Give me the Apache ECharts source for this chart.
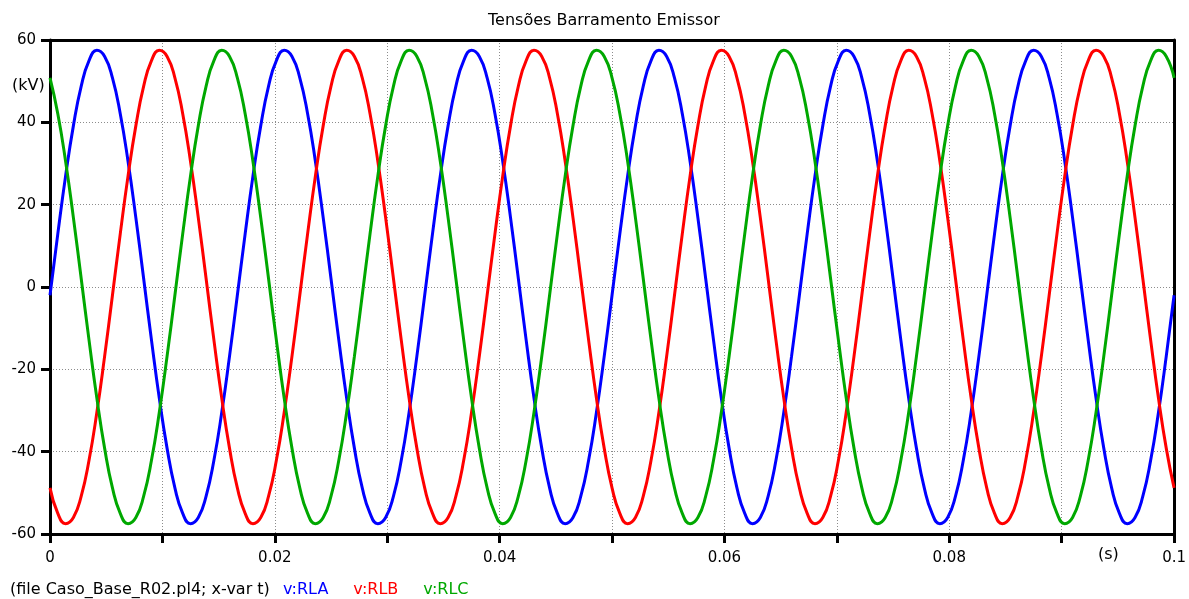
<!DOCTYPE html>
<html>
<head>
<meta charset="utf-8">
<title>Tensões Barramento Emissor</title>
<script src="https://cdn.jsdelivr.net/npm/echarts@6/dist/echarts.min.js"></script>
<style>
  html, body { margin: 0; padding: 0; background: #fff; }
  #chart { width: 1189px; height: 599px; }
</style>
</head>
<body>
<div id="chart"></div>
<script>
  // sample times (s), one point every 15 degrees of the 60 Hz wave
  const times = [
    0, 0.000694, 0.001389, 0.002083, 0.002778, 0.003472, 0.004167, 0.004861, 0.005556, 0.00625, 0.006944, 0.007639,
    0.008333, 0.009028, 0.009722, 0.010417, 0.011111, 0.011806, 0.0125, 0.013194, 0.013889, 0.014583, 0.015278, 0.015972,
    0.016667, 0.017361, 0.018056, 0.01875, 0.019444, 0.020139, 0.020833, 0.021528, 0.022222, 0.022917, 0.023611, 0.024306,
    0.025, 0.025694, 0.026389, 0.027083, 0.027778, 0.028472, 0.029167, 0.029861, 0.030556, 0.03125, 0.031944, 0.032639,
    0.033333, 0.034028, 0.034722, 0.035417, 0.036111, 0.036806, 0.0375, 0.038194, 0.038889, 0.039583, 0.040278, 0.040972,
    0.041667, 0.042361, 0.043056, 0.04375, 0.044444, 0.045139, 0.045833, 0.046528, 0.047222, 0.047917, 0.048611, 0.049306,
    0.05, 0.050694, 0.051389, 0.052083, 0.052778, 0.053472, 0.054167, 0.054861, 0.055556, 0.05625, 0.056944, 0.057639,
    0.058333, 0.059028, 0.059722, 0.060417, 0.061111, 0.061806, 0.0625, 0.063194, 0.063889, 0.064583, 0.065278, 0.065972,
    0.066667, 0.067361, 0.068056, 0.06875, 0.069444, 0.070139, 0.070833, 0.071528, 0.072222, 0.072917, 0.073611, 0.074306,
    0.075, 0.075694, 0.076389, 0.077083, 0.077778, 0.078472, 0.079167, 0.079861, 0.080556, 0.08125, 0.081944, 0.082639,
    0.083333, 0.084028, 0.084722, 0.085417, 0.086111, 0.086806, 0.0875, 0.088194, 0.088889, 0.089583, 0.090278, 0.090972,
    0.091667, 0.092361, 0.093056, 0.09375, 0.094444, 0.095139, 0.095833, 0.096528, 0.097222, 0.097917, 0.098611, 0.099306,
    0.1,
  ];

  // kV
  const rla = [
    -2.0, 12.9, 27.0, 39.2, 48.8, 55.0, 57.5, 56.0, 50.8, 42.1, 30.5, 16.8,
    2.0, -12.9, -27.0, -39.2, -48.8, -55.0, -57.5, -56.0, -50.8, -42.1, -30.5, -16.8,
    -2.0, 12.9, 27.0, 39.2, 48.8, 55.0, 57.5, 56.0, 50.8, 42.1, 30.5, 16.8,
    2.0, -12.9, -27.0, -39.2, -48.8, -55.0, -57.5, -56.0, -50.8, -42.1, -30.5, -16.8,
    -2.0, 12.9, 27.0, 39.2, 48.8, 55.0, 57.5, 56.0, 50.8, 42.1, 30.5, 16.8,
    2.0, -12.9, -27.0, -39.2, -48.8, -55.0, -57.5, -56.0, -50.8, -42.1, -30.5, -16.8,
    -2.0, 12.9, 27.0, 39.2, 48.8, 55.0, 57.5, 56.0, 50.8, 42.1, 30.5, 16.8,
    2.0, -12.9, -27.0, -39.2, -48.8, -55.0, -57.5, -56.0, -50.8, -42.1, -30.5, -16.8,
    -2.0, 12.9, 27.0, 39.2, 48.8, 55.0, 57.5, 56.0, 50.8, 42.1, 30.5, 16.8,
    2.0, -12.9, -27.0, -39.2, -48.8, -55.0, -57.5, -56.0, -50.8, -42.1, -30.5, -16.8,
    -2.0, 12.9, 27.0, 39.2, 48.8, 55.0, 57.5, 56.0, 50.8, 42.1, 30.5, 16.8,
    2.0, -12.9, -27.0, -39.2, -48.8, -55.0, -57.5, -56.0, -50.8, -42.1, -30.5, -16.8,
    -2.0,
  ];
  const rlb = [
    -48.8, -55.0, -57.5, -56.0, -50.8, -42.1, -30.5, -16.8, -2.0, 12.9, 27.0, 39.2,
    48.8, 55.0, 57.5, 56.0, 50.8, 42.1, 30.5, 16.8, 2.0, -12.9, -27.0, -39.2,
    -48.8, -55.0, -57.5, -56.0, -50.8, -42.1, -30.5, -16.8, -2.0, 12.9, 27.0, 39.2,
    48.8, 55.0, 57.5, 56.0, 50.8, 42.1, 30.5, 16.8, 2.0, -12.9, -27.0, -39.2,
    -48.8, -55.0, -57.5, -56.0, -50.8, -42.1, -30.5, -16.8, -2.0, 12.9, 27.0, 39.2,
    48.8, 55.0, 57.5, 56.0, 50.8, 42.1, 30.5, 16.8, 2.0, -12.9, -27.0, -39.2,
    -48.8, -55.0, -57.5, -56.0, -50.8, -42.1, -30.5, -16.8, -2.0, 12.9, 27.0, 39.2,
    48.8, 55.0, 57.5, 56.0, 50.8, 42.1, 30.5, 16.8, 2.0, -12.9, -27.0, -39.2,
    -48.8, -55.0, -57.5, -56.0, -50.8, -42.1, -30.5, -16.8, -2.0, 12.9, 27.0, 39.2,
    48.8, 55.0, 57.5, 56.0, 50.8, 42.1, 30.5, 16.8, 2.0, -12.9, -27.0, -39.2,
    -48.8, -55.0, -57.5, -56.0, -50.8, -42.1, -30.5, -16.8, -2.0, 12.9, 27.0, 39.2,
    48.8, 55.0, 57.5, 56.0, 50.8, 42.1, 30.5, 16.8, 2.0, -12.9, -27.0, -39.2,
    -48.8,
  ];
  const rlc = [
    50.8, 42.1, 30.5, 16.8, 2.0, -12.9, -27.0, -39.2, -48.8, -55.0, -57.5, -56.0,
    -50.8, -42.1, -30.5, -16.8, -2.0, 12.9, 27.0, 39.2, 48.8, 55.0, 57.5, 56.0,
    50.8, 42.1, 30.5, 16.8, 2.0, -12.9, -27.0, -39.2, -48.8, -55.0, -57.5, -56.0,
    -50.8, -42.1, -30.5, -16.8, -2.0, 12.9, 27.0, 39.2, 48.8, 55.0, 57.5, 56.0,
    50.8, 42.1, 30.5, 16.8, 2.0, -12.9, -27.0, -39.2, -48.8, -55.0, -57.5, -56.0,
    -50.8, -42.1, -30.5, -16.8, -2.0, 12.9, 27.0, 39.2, 48.8, 55.0, 57.5, 56.0,
    50.8, 42.1, 30.5, 16.8, 2.0, -12.9, -27.0, -39.2, -48.8, -55.0, -57.5, -56.0,
    -50.8, -42.1, -30.5, -16.8, -2.0, 12.9, 27.0, 39.2, 48.8, 55.0, 57.5, 56.0,
    50.8, 42.1, 30.5, 16.8, 2.0, -12.9, -27.0, -39.2, -48.8, -55.0, -57.5, -56.0,
    -50.8, -42.1, -30.5, -16.8, -2.0, 12.9, 27.0, 39.2, 48.8, 55.0, 57.5, 56.0,
    50.8, 42.1, 30.5, 16.8, 2.0, -12.9, -27.0, -39.2, -48.8, -55.0, -57.5, -56.0,
    -50.8, -42.1, -30.5, -16.8, -2.0, 12.9, 27.0, 39.2, 48.8, 55.0, 57.5, 56.0,
    50.8,
  ];

  const seriesNames = ['v:RLA', 'v:RLB', 'v:RLC'];
  const seriesColors = ['#0000ff', '#ff0000', '#00a800'];
  const xLabels = ['0', '0.02', '0.04', '0.06', '0.08', '0.1'];

  const font = '"DejaVu Sans", Verdana, sans-serif';
  const pair = list => times.map((t, i) => [t, list[i]]);

  const makeSeries = (name, color, list) => ({
    name,
    type: 'line',
    data: pair(list),
    smooth: true,
    showSymbol: false,
    lineStyle: {
      color,
      width: 3,
    },
    itemStyle: {
      color,
    },
  });

  const gridLine = {
    lineStyle: { color: '#8c8c8c', type: [1, 2], width: 1 },
  };
  const frameLine = {
    show: true,
    onZero: false,
    lineStyle: { color: '#000', width: 3 },
  };

  const myChart = echarts.init(document.getElementById('chart'));
  myChart.setOption({
    animation: false,
    textStyle: {
      fontFamily: font,
    },
    grid: {
      left: 50,
      right: 12,
      top: 40,
      bottom: 65,
    },
    legend: {
      data: seriesNames.map((name, i) => ({
        name,
        textStyle: { color: seriesColors[i] },
      })),
      left: 278,
      top: 582,
      icon: 'none',
      itemWidth: 0,
      itemHeight: 0,
      itemGap: 20,
      padding: 0,
      selectedMode: false,
      textStyle: {
        fontFamily: font,
        fontSize: 16,
        padding: 0,
      },
    },
    graphic: [
      {
        type: 'text',
        left: 488,
        top: 13,
        style: {
          text: 'Tensões Barramento Emissor',
          font: `16px ${font}`,
          fill: '#000',
        },
      },
      {
        type: 'text',
        x: 12,
        y: 78,
        style: {
          text: '(kV)',
          font: `16px ${font}`,
          fill: '#000',
        },
      },
      {
        type: 'text',
        x: 1098,
        y: 547,
        style: {
          text: '(s)',
          font: `16px ${font}`,
          fill: '#000',
        },
      },
      {
        type: 'text',
        x: 10,
        y: 582,
        style: {
          text: '(file Caso_Base_R02.pl4; x-var t)',
          font: `16px ${font}`,
          fill: '#000',
        },
      },
    ],
    xAxis: [
      {
        type: 'value',
        min: 0,
        max: 0.1,
        interval: 0.01,
        axisLine: frameLine,
        axisTick: {
          length: 9,
          lineStyle: { color: '#000', width: 3 },
        },
        axisLabel: {
          color: '#000',
          fontSize: 15,
          margin: 17,
          formatter: (value) => {
            const idx = Math.round(value / 0.02 * 1000) / 1000;
            return Number.isInteger(idx) ? xLabels[idx] : '';
          },
        },
        splitLine: gridLine,
      },
      {
        type: 'value',
        position: 'top',
        min: 0,
        max: 0.1,
        axisLine: frameLine,
        axisTick: { show: false },
        axisLabel: { show: false },
        splitLine: { show: false },
      },
    ],
    yAxis: [
      {
        type: 'value',
        min: -60,
        max: 60,
        interval: 20,
        axisLine: frameLine,
        axisTick: {
          show: true,
          length: 9,
          lineStyle: { color: '#000', width: 3 },
        },
        axisLabel: {
          color: '#000',
          fontSize: 15,
          margin: 14,
        },
        splitLine: gridLine,
      },
      {
        type: 'value',
        position: 'right',
        min: -60,
        max: 60,
        axisLine: frameLine,
        axisTick: { show: false },
        axisLabel: { show: false },
        splitLine: { show: false },
      },
    ],
    series: [
      makeSeries(seriesNames[0], seriesColors[0], rla),
      makeSeries(seriesNames[1], seriesColors[1], rlb),
      makeSeries(seriesNames[2], seriesColors[2], rlc),
    ],
  });
</script>
</body>
</html>
